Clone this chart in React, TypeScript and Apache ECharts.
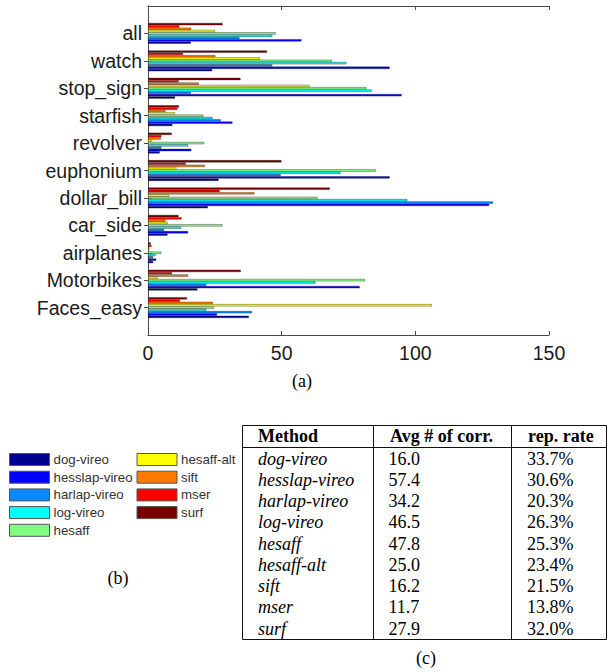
import React, { useEffect, useRef } from 'react';
import * as echarts from 'echarts';

// Categories, bottom to top as drawn on the y axis
const categories = ['Faces_easy', 'Motorbikes', 'airplanes', 'car_side', 'dollar_bill', 'euphonium', 'revolver', 'starfish', 'stop_sign', 'watch', 'all'];

const methods = ['dog-vireo', 'hesslap-vireo', 'harlap-vireo', 'log-vireo', 'hesaff', 'hesaff-alt', 'sift', 'mser', 'surf'];

const dogVireo = [37.7, 18.5, 1.9, 7.3, 22.4, 26.4, 4.4, 9.1, 10.1, 24.0, 16.0];
const hesslapVireo = [25.8, 79.2, 3.1, 15.0, 127.6, 90.4, 16.2, 31.6, 94.9, 90.4, 57.4];
const harlapVireo = [38.9, 21.8, 1.9, 6.0, 129.1, 49.6, 5.0, 27.2, 16.0, 46.5, 34.2];
const logVireo = [21.8, 62.6, 2.8, 12.4, 97.0, 72.0, 15.0, 24.1, 83.7, 74.2, 46.5];
const hesaff = [24.6, 81.1, 5.0, 27.8, 63.4, 85.2, 21.0, 20.7, 81.7, 68.8, 47.8];
const hesaffAlt = [106.2, 3.5, 0.5, 7.3, 7.9, 10.6, 1.5, 10.1, 60.4, 41.8, 25.0];
const sift = [24.3, 15.0, 0.5, 6.5, 39.8, 21.3, 4.8, 6.5, 19.0, 25.2, 16.2];
const mser = [11.9, 9.0, 1.3, 12.6, 26.8, 14.1, 5.0, 11.0, 11.5, 13.1, 11.7];
const surf = [14.6, 34.7, 1.0, 11.4, 68.0, 49.9, 8.9, 11.6, 34.6, 44.5, 27.9];

const seriesValues = [dogVireo, hesslapVireo, harlapVireo, logVireo, hesaff, hesaffAlt, sift, mser, surf];

const colors = ['#00008F', '#0000FF', '#0A88FF', '#00FFFF', '#80FF80', '#FFFF00', '#FF7A00', '#FF0000', '#7A0000'];

const xMin = 0;
const xMax = 150;
const xInterval = 50;

// Table (c)
const tableHeader = ['Method', 'Avg # of corr.', 'rep. rate'];
const tableAvg = ['16.0', '57.4', '34.2', '46.5', '47.8', '25.0', '16.2', '11.7', '27.9'];
const tableRate = ['33.7%', '30.6%', '20.3%', '26.3%', '25.3%', '23.4%', '21.5%', '13.8%', '32.0%'];

const SANS = '"Liberation Sans", Arial, Helvetica, sans-serif';
const SERIF = '"Liberation Serif", "Times New Roman", serif';

export default function App() {
  const ref = useRef<HTMLDivElement>(null);

  useEffect(() => {
    if (!ref.current) return;
    const chart = echarts.init(ref.current, undefined, { renderer: 'svg' });

    const paddedCats = ['', ...categories, ''];
    const axisColor = '#4a4a4a';

    // series drawn top-first so that dog-vireo ends at the bottom of each group
    const order = methods.map((_, i) => i).reverse();
    const series: any[] = order.map((i) => ({
      type: 'bar',
      name: methods[i],
      data: [null, ...seriesValues[i], null],
      barGap: '0%',
      barCategoryGap: '24%',
      itemStyle: { color: colors[i], borderColor: 'rgba(30,30,30,0.75)', borderWidth: 0.5 },
      emphasis: { disabled: true },
    }));

    // table graphic
    const tx = 242.5, ty = 425.5, tw = 364, th = 214;
    const col1 = 373.5, col2 = 511.5, headerLine = 447.5;
    const colX = [258, 388.5, 527];
    const rowY0 = 458.5, rowStep = 21.25;
    const g: any[] = [];
    g.push({ type: 'rect', shape: { x: tx, y: ty, width: tw, height: th }, style: { fill: 'none', stroke: '#111', lineWidth: 1 } });
    g.push({ type: 'line', shape: { x1: tx, y1: headerLine, x2: tx + tw, y2: headerLine }, style: { stroke: '#111', lineWidth: 1 } });
    g.push({ type: 'line', shape: { x1: col1, y1: ty, x2: col1, y2: ty + th }, style: { stroke: '#111', lineWidth: 1 } });
    g.push({ type: 'line', shape: { x1: col2, y1: ty, x2: col2, y2: ty + th }, style: { stroke: '#111', lineWidth: 1 } });
    tableHeader.forEach((h, j) => {
      g.push({
        type: 'text', x: colX[j] + (j === 1 ? 1.5 : j === 2 ? 1 : 0), y: 436,
        style: { text: h, fontFamily: SERIF, fontSize: 18, fontWeight: 'bold', fill: '#000', align: 'left', verticalAlign: 'middle' },
      });
    });
    methods.forEach((m, i) => {
      const y = rowY0 + i * rowStep;
      g.push({ type: 'text', x: colX[0], y, style: { text: m, fontFamily: SERIF, fontSize: 18, fontStyle: 'italic', fill: '#000', align: 'left', verticalAlign: 'middle' } });
      g.push({ type: 'text', x: colX[1], y, style: { text: tableAvg[i], fontFamily: SERIF, fontSize: 18, fill: '#000', align: 'left', verticalAlign: 'middle' } });
      g.push({ type: 'text', x: colX[2], y, style: { text: tableRate[i], fontFamily: SERIF, fontSize: 18, fill: '#000', align: 'left', verticalAlign: 'middle' } });
    });
    // captions
    g.push({ type: 'text', x: 302, y: 381, style: { text: '(a)', fontFamily: SERIF, fontSize: 18, fill: '#000', align: 'center', verticalAlign: 'middle' } });
    g.push({ type: 'text', x: 118, y: 578, style: { text: '(b)', fontFamily: SERIF, fontSize: 18, fill: '#000', align: 'center', verticalAlign: 'middle' } });
    g.push({ type: 'text', x: 426, y: 658, style: { text: '(c)', fontFamily: SERIF, fontSize: 18, fill: '#000', align: 'center', verticalAlign: 'middle' } });

    const legendCommon = {
      orient: 'vertical',
      itemWidth: 40,
      itemHeight: 12,
      itemGap: 4.7,
      selectedMode: false,
      icon: 'rect',
      padding: 0,
      textStyle: { fontFamily: SANS, fontSize: 13.3, color: '#333', padding: [0, 0, 0, -1] },
      itemStyle: { borderColor: '#555', borderWidth: 1 },
    };

    const option: any = {
      animation: false,
      backgroundColor: '#fff',
      grid: { left: 148, top: 6, width: 401, height: 329, containLabel: false },
      legend: [
        { ...legendCommon, left: 9, top: 453, data: methods.slice(0, 5) },
        { ...legendCommon, left: 136.5, top: 453, data: methods.slice(5) },
      ],
      xAxis: [
        {
          type: 'value', position: 'bottom', min: xMin, max: xMax, interval: xInterval,
          axisLine: { show: true, lineStyle: { color: axisColor, width: 1 } },
          axisTick: { show: true, inside: true, length: 4, lineStyle: { color: axisColor } },
          splitLine: { show: false },
          axisLabel: { fontFamily: SANS, fontSize: 19.5, color: '#1a1a1a', margin: 8 },
        },
        {
          type: 'value', position: 'top', min: xMin, max: xMax, interval: xInterval,
          axisLine: { show: true, lineStyle: { color: axisColor, width: 1 } },
          axisTick: { show: true, inside: true, length: 4, lineStyle: { color: axisColor } },
          splitLine: { show: false },
          axisLabel: { show: false },
        },
      ],
      yAxis: [
        {
          type: 'category', position: 'left', data: paddedCats, boundaryGap: false,
          axisLine: { show: true, lineStyle: { color: axisColor, width: 1 } },
          axisTick: { show: true, inside: true, length: 4, lineStyle: { color: axisColor }, interval: (_i: number, v: string) => v !== '' },
          splitLine: { show: false },
          axisLabel: { interval: 0, fontFamily: SANS, fontSize: 19.5, color: '#1a1a1a', margin: 6 },
        },
        {
          type: 'category', position: 'right', data: paddedCats, boundaryGap: false,
          axisLine: { show: true, lineStyle: { color: axisColor, width: 1 } },
          axisTick: { show: true, inside: true, length: 4, lineStyle: { color: axisColor }, interval: (_i: number, v: string) => v !== '' },
          splitLine: { show: false },
          axisLabel: { show: false },
        },
      ],
      series,
      graphic: g,
    };

    chart.setOption(option);
    return () => chart.dispose();
  }, []);

  return (
    <div
      ref={ref}
      style={{ position: 'fixed', left: 0, top: 0, width: 609, height: 672, background: '#fff' }}
    />
  );
}
